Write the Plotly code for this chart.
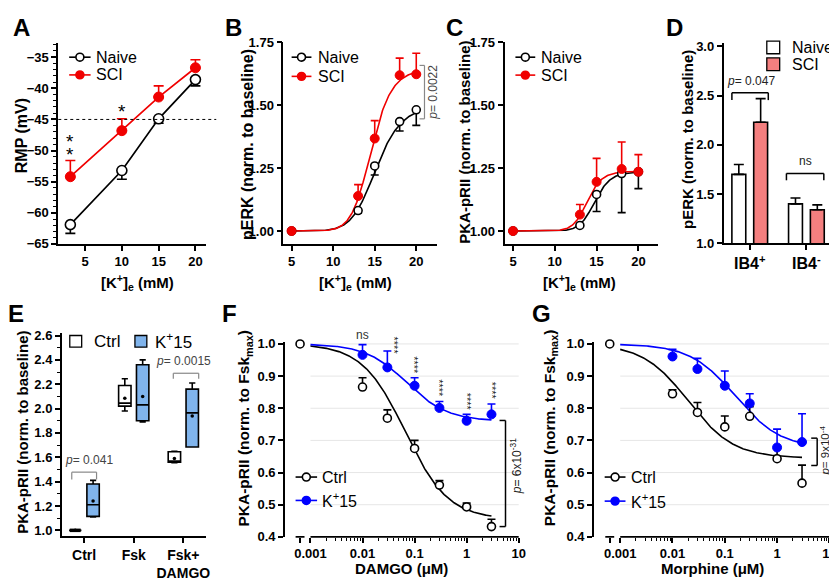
import numpy as np
import plotly.graph_objects as go

W, H = 837, 581
FONT = "Arial, Liberation Sans, sans-serif"
RED = "#f00000"
BLUE = "#0000ff"
SALMON = "#f47f7f"
LBLUE = "#80b4ec"

# ---------------- data ----------------
# Panel A: RMP vs [K+]e
K_A = [3, 10, 15, 20]
A_naive = [-61.9, -53.2, -44.9, -38.6]
A_naive_sem = [1.4, 1.4, 0.7, 1.0]
A_sci = [-54.2, -46.8, -41.4, -36.7]
A_sci_sem = [2.6, 1.9, 1.8, 1.3]
A_threshold = -45

# Panels B, C: [K+]e
K_BC = [5, 13, 15, 18, 20]
B_naive = [1.0, 1.081, 1.258, 1.434, 1.481]
B_naive_sem = [0.0, 0.01, 0.036, 0.037, 0.062]
B_sci = [1.0, 1.139, 1.367, 1.618, 1.622]
B_sci_sem = [0.0, 0.045, 0.071, 0.068, 0.083]
B_naive_fit = (1.0, 1.50, 15.2, 10)   # bottom, top, EC50, Hill
B_sci_fit = (1.0, 1.645, 14.6, 12)

C_naive = [1.0, 1.022, 1.145, 1.228, 1.235]
C_naive_sem = [0.0, 0.005, 0.068, 0.155, 0.067]
C_sci = [1.0, 1.065, 1.195, 1.246, 1.235]
C_sci_sem = [0.0, 0.04, 0.093, 0.107, 0.068]
C_naive_fit = (1.0, 1.235, 14.8, 16)
C_sci_fit = (1.0, 1.237, 13.9, 16)

# Panel D: bars
D_cats = ["IB4<sup>+</sup>", "IB4<sup>-</sup>"]
D_naive = [1.70, 1.40]
D_naive_sem = [0.10, 0.06]
D_sci = [2.23, 1.34]
D_sci_sem = [0.24, 0.05]

# Panel E: box plots
E_cats = ["Ctrl", "Fsk", "Fsk+<br>DAMGO"]
E_ctrl_lo = [1.0, 1.98, 1.555]
E_ctrl_q1 = [1.0, 2.02, 1.56]
E_ctrl_med = [1.0, 2.045, 1.565]
E_ctrl_q3 = [1.0, 2.19, 1.645]
E_ctrl_hi = [1.0, 2.245, 1.65]
E_ctrl_mean = [1.0, 2.085, 1.59]
E_k_lo = [1.11, 1.89, 1.685]
E_k_q1 = [1.115, 1.90, 1.685]
E_k_med = [1.21, 2.03, 1.965]
E_k_q3 = [1.38, 2.36, 2.16]
E_k_hi = [1.41, 2.40, 2.21]
E_k_mean = [1.24, 2.10, 1.94]

# Panels F, G: dose response
CONC = [0, 0.01, 0.03, 0.1, 0.3, 1, 3]
CONC_K = [0.01, 0.03, 0.1, 0.3, 1, 3]
F_ctrl = [1.0, 0.866, 0.769, 0.675, 0.561, 0.493, 0.432]
F_ctrl_sem = [0.0, 0.029, 0.026, 0.025, 0.014, 0.012, 0.023]
F_k = [0.966, 0.927, 0.870, 0.801, 0.761, 0.781]
F_k_sem = [0.032, 0.051, 0.025, 0.020, 0.020, 0.032]
F_ctrl_fit = (0.455, 1.0, 0.066, 1.05)  # bottom, top, IC50, Hill
F_k_fit = (0.76, 1.0, 0.07, 1.1)
F_stars = ["ns", "****", "****", "****", "****", "****"]

G_ctrl = [1.0, 0.845, 0.787, 0.742, 0.775, 0.643, 0.567]
G_ctrl_sem = [0.0, 0.012, 0.031, 0.034, 0.030, 0.035, 0.056]
G_k = [0.961, 0.922, 0.870, 0.815, 0.678, 0.695]
G_k_sem = [0.022, 0.033, 0.046, 0.030, 0.057, 0.088]
G_ctrl_fit = (0.645, 1.0, 0.02, 1.0)
G_k_fit = (0.675, 1.0, 0.16, 1.0)

ZERO_POS = 10 ** -3.2   # where the "0" dose is drawn on the broken log axis

# ---------------- geometry (pixels) ----------------
PANELS = {
    "A": dict(n=1, xd=(50.7, 200.0), yd=(28.3, 235.0), xr=(1.36, 21.48), yr=(-65, -32.65)),
    "B": dict(n=2, xd=(277.7, 433.0), yd=(27.7, 235.0), xr=(4.01, 22.54), yr=(0.9486, 1.75)),
    "C": dict(n=3, xd=(500.7, 655.0), yd=(27.7, 235.0), xr=(3.98, 22.29), yr=(0.9486, 1.75)),
    "D": dict(n=4, xd=(721.7, 836.0), yd=(28.3, 234.3), xr=(-0.46, 1.54), yr=(1.0, 3.04)),
    "E": dict(n=5, xd=(54.3, 199.3), yd=(326.5, 535.0), xr=(-0.45, 2.45), yr=(0.952, 2.62)),
    "F": dict(n=6, xd=(279.3, 515.0), yd=(336.0, 535.7), xr=(-3.49, 1.0), yr=(0.4, 1.005), log=True),
    "G": dict(n=7, xd=(591.0, 828.3), yd=(336.0, 535.7), xr=(-3.5, 1.0), yr=(0.4, 1.005), log=True),
}


def PX(x):
    return x / W


def PY(y):
    return 1 - y / H


def xpix(p, v):
    g = PANELS[p]
    r0, r1 = g["xr"]
    t = np.log10(v) if g.get("log") else v
    return g["xd"][0] + (t - r0) / (r1 - r0) * (g["xd"][1] - g["xd"][0])


def ypix(p, v):
    g = PANELS[p]
    r0, r1 = g["yr"]
    return g["yd"][1] - (v - r0) / (r1 - r0) * (g["yd"][1] - g["yd"][0])


def axn(p):
    n = PANELS[p]["n"]
    s = "" if n == 1 else str(n)
    return "x" + s, "y" + s


shapes = []
annotations = []


def seg(x0, y0, x1, y1, color="black", width=1.5, dash=None, layer="above"):
    shapes.append(dict(type="line", xref="paper", yref="paper",
                       x0=PX(x0), y0=PY(y0), x1=PX(x1), y1=PY(y1), layer=layer,
                       line=dict(color=color, width=width, dash=dash)))


def text(t, x, y, size=13, bold=False, angle=0, color="black", xa="center", ya="middle"):
    annotations.append(dict(text=t, x=PX(x), y=PY(y), xref="paper", yref="paper",
                            showarrow=False, xanchor=xa, yanchor=ya, textangle=angle,
                            font=dict(family=FONT, size=size, color=color,
                                      weight="bold" if bold else "normal")))


fig = go.Figure()


def err(up, down, color, w=4, th=1.5):
    return dict(type="data", symmetric=False, array=up, arrayminus=down,
                color=color, thickness=th, width=w)


def zeros(a):
    return [0] * len(a)


def open_marker(size):
    return dict(symbol="circle", size=size, color="white", line=dict(color="black", width=1.6))


def fill_marker(size, c):
    return dict(symbol="circle", size=size, color=c, line=dict(color=c, width=1))


# ---- A ----
xa, ya = axn("A")
fig.add_trace(go.Scatter(x=K_A, y=A_naive, mode="lines+markers", name="Naive",
                         line=dict(color="black", width=1.7), marker=open_marker(10),
                         error_y=err(zeros(A_naive), A_naive_sem, "black", 5, 1.6),
                         xaxis=xa, yaxis=ya, cliponaxis=False))
fig.add_trace(go.Scatter(x=K_A, y=A_sci, mode="lines+markers", name="SCI",
                         line=dict(color=RED, width=1.7), marker=fill_marker(10, RED),
                         error_y=err(A_sci_sem, zeros(A_sci), RED, 5, 1.6),
                         xaxis=xa, yaxis=ya, cliponaxis=False))


# ---- B, C ----
def hill_up(x, fit):
    b, t, ec, h = fit
    return b + (t - b) * x ** h / (x ** h + ec ** h)


xs_lin = np.linspace(5, 20, 200)
for p, nv, ns, sv, ss, nf, sf in [("B", B_naive, B_naive_sem, B_sci, B_sci_sem, B_naive_fit, B_sci_fit),
                                  ("C", C_naive, C_naive_sem, C_sci, C_sci_sem, C_naive_fit, C_sci_fit)]:
    xa, ya = axn(p)
    fig.add_trace(go.Scatter(x=xs_lin, y=hill_up(xs_lin, nf), mode="lines", line=dict(color="black", width=1.6),
                             xaxis=xa, yaxis=ya, showlegend=False, hoverinfo="skip"))
    fig.add_trace(go.Scatter(x=xs_lin, y=hill_up(xs_lin, sf), mode="lines", line=dict(color=RED, width=1.6),
                             xaxis=xa, yaxis=ya, showlegend=False, hoverinfo="skip"))
    fig.add_trace(go.Scatter(x=K_BC, y=nv, mode="markers", name="Naive", marker=open_marker(8),
                             error_y=err(zeros(nv), ns, "black", 4, 1.6), xaxis=xa, yaxis=ya, cliponaxis=False))
    fig.add_trace(go.Scatter(x=K_BC, y=sv, mode="markers", name="SCI", marker=fill_marker(9, RED),
                             error_y=err(ss, zeros(sv), RED, 4, 1.6), xaxis=xa, yaxis=ya, cliponaxis=False))

# ---- D ----
xa, ya = axn("D")
D_idx = list(range(len(D_cats)))
fig.add_trace(go.Bar(x=D_idx, y=D_naive, width=0.245, offset=-0.315, name="Naive",
                     marker=dict(color="white", line=dict(color="black", width=1.6)),
                     error_y=err(D_naive_sem, zeros(D_naive), "black", 5, 1.6), xaxis=xa, yaxis=ya))
fig.add_trace(go.Bar(x=D_idx, y=D_sci, width=0.245, offset=0.07, name="SCI",
                     marker=dict(color=SALMON, line=dict(color="black", width=1.6)),
                     error_y=err(D_sci_sem, zeros(D_sci), "black", 5, 1.6), xaxis=xa, yaxis=ya))

# ---- E ----
xa, ya = axn("E")
E_idx = np.arange(len(E_cats))
for off, lo, q1, med, q3, hi, mean, fc, nm in [
        (-0.18, E_ctrl_lo, E_ctrl_q1, E_ctrl_med, E_ctrl_q3, E_ctrl_hi, E_ctrl_mean, "white", "Ctrl"),
        (0.18, E_k_lo, E_k_q1, E_k_med, E_k_q3, E_k_hi, E_k_mean, LBLUE, "K+15")]:
    pos = list(E_idx + off)
    fig.add_trace(go.Box(x=pos, q1=q1, median=med, q3=q3, lowerfence=lo, upperfence=hi,
                         width=0.25, fillcolor=fc, line=dict(color="black", width=1.6),
                         whiskerwidth=0.5, boxpoints=False, name=nm, xaxis=xa, yaxis=ya))
    fig.add_trace(go.Scatter(x=pos, y=mean, mode="markers", marker=dict(size=3.5, color="black"),
                             xaxis=xa, yaxis=ya, showlegend=False, hoverinfo="skip"))
# the Ctrl/Ctrl group has zero spread: drawn as a heavy bar in the reference
seg(xpix("E", E_idx[0] - 0.18) - 5.5, ypix("E", E_ctrl_med[0]), xpix("E", E_idx[0] - 0.18) + 5.5,
    ypix("E", E_ctrl_med[0]), width=3.5)


# ---- F, G ----
def hill_down(x, fit):
    b, t, ic, h = fit
    return b + (t - b) / (1 + (x / ic) ** h)


xs_log = np.logspace(-3, np.log10(3), 250)
cx = [ZERO_POS if c == 0 else c for c in CONC]
for p, cv, cs, kv, ks, cf, kf in [("F", F_ctrl, F_ctrl_sem, F_k, F_k_sem, F_ctrl_fit, F_k_fit),
                                  ("G", G_ctrl, G_ctrl_sem, G_k, G_k_sem, G_ctrl_fit, G_k_fit)]:
    xa, ya = axn(p)
    fig.add_trace(go.Scatter(x=xs_log, y=hill_down(xs_log, cf), mode="lines", line=dict(color="black", width=1.6),
                             xaxis=xa, yaxis=ya, showlegend=False, hoverinfo="skip"))
    fig.add_trace(go.Scatter(x=xs_log, y=hill_down(xs_log, kf), mode="lines", line=dict(color=BLUE, width=1.6),
                             xaxis=xa, yaxis=ya, showlegend=False, hoverinfo="skip"))
    fig.add_trace(go.Scatter(x=cx, y=cv, mode="markers", name="Ctrl", marker=open_marker(8),
                             error_y=err(cs, zeros(cv), "black", 4, 1.6), xaxis=xa, yaxis=ya, cliponaxis=False))
    fig.add_trace(go.Scatter(x=CONC_K, y=kv, mode="markers", name="K+15", marker=fill_marker(9, BLUE),
                             error_y=err(ks, zeros(kv), BLUE, 4, 1.6), xaxis=xa, yaxis=ya, cliponaxis=False))

# ---------------- axes ----------------
TICKFONT = dict(family=FONT, size=13, color="black", weight="bold")
layout_axes = {}


def base_axis():
    return dict(showline=True, linecolor="black", linewidth=1.7, ticks="outside", ticklen=5,
                tickwidth=1.6, tickcolor="black", showgrid=False, zeroline=False,
                tickfont=TICKFONT, fixedrange=True)


for p, g in PANELS.items():
    n = g["n"]
    s = "" if n == 1 else str(n)
    xa_ = base_axis()
    xa_.update(domain=[PX(g["xd"][0]), PX(g["xd"][1])], range=list(g["xr"]), anchor="y" + s)
    ya_ = base_axis()
    ya_.update(domain=[PY(g["yd"][1]), PY(g["yd"][0])], range=list(g["yr"]), anchor="x" + s)
    layout_axes["xaxis" + s] = xa_
    layout_axes["yaxis" + s] = ya_

minor = dict(ticks="outside", ticklen=3, tickwidth=1.2, tickcolor="black")
layout_axes["xaxis"].update(tickvals=[5, 10, 15, 20])
layout_axes["yaxis"].update(tickvals=list(range(-65, -34, 5)), minor=dict(minor, dtick=1))
for s in ["2", "3"]:
    layout_axes["xaxis" + s].update(tickvals=[5, 10, 15, 20])
    layout_axes["yaxis" + s].update(tickvals=[1.0, 1.25, 1.5, 1.75], tickformat=".2f")
layout_axes["xaxis4"].update(tickvals=D_idx, ticktext=D_cats,
                             tickfont=dict(family=FONT, size=16, color="black", weight="bold"))
layout_axes["yaxis4"].update(tickvals=[1.0, 1.5, 2.0, 2.5, 3.0], tickformat=".1f")
layout_axes["xaxis5"].update(tickvals=list(E_idx), ticktext=E_cats,
                             tickfont=dict(family=FONT, size=14, color="black", weight="bold"))
layout_axes["yaxis5"].update(tickvals=[1.0, 1.2, 1.4, 1.6, 1.8, 2.0, 2.2, 2.4, 2.6], tickformat=".1f",
                             minor=dict(minor, dtick=0.1, tick0=1.0))
minor_log = [m * 10.0 ** e for e in range(-3, 1) for m in range(2, 10)]
for s in ["6", "7"]:
    layout_axes["xaxis" + s].update(type="log", showline=False,
                                    tickvals=[ZERO_POS, 0.001, 0.01, 0.1, 1, 10],
                                    ticktext=["", "0.001", "0.01", "0.1", "1", "10"],
                                    minor=dict(minor, tickmode="array", tickvals=minor_log))
    layout_axes["yaxis" + s].update(tickvals=[0.4, 0.5, 0.6, 0.7, 0.8, 0.9, 1.0], tickformat=".1f")

# ---------------- decorations ----------------
# broken log x axes + gridlines
for p in ["F", "G"]:
    g = PANELS[p]
    ybot = g["yd"][1]
    z = xpix(p, ZERO_POS)
    seg(z - 4.5, ybot, z + 4.5, ybot, width=1.7)
    seg(xpix(p, 0.001), ybot, g["xd"][1], ybot, width=1.7)
    for gv in [0.5, 0.6, 0.7, 0.8, 0.9, 1.0]:
        seg(xpix(p, 0.001), ypix(p, gv), g["xd"][1], ypix(p, gv), color="#e6e6e6", width=1, layer="below")

# A: threshold line and asterisks
seg(PANELS["A"]["xd"][0], ypix("A", A_threshold), 210, ypix("A", A_threshold), width=1, dash="dot")
text("*", xpix("A", 10), ypix("A", A_sci[1] + A_sci_sem[1]) - 8, size=19)
text("*", xpix("A", 3), ypix("A", A_sci[0] + A_sci_sem[0]) - 20, size=19)
text("*", xpix("A", 3), ypix("A", A_sci[0] + A_sci_sem[0]) - 6, size=19)

# B bracket
bx = 420
seg(bx, ypix("B", 1.657), bx, ypix("B", 1.445), color="#888888", width=1.2)
seg(bx - 5, ypix("B", 1.657), bx, ypix("B", 1.657), color="#888888", width=1.2)
seg(bx - 5, ypix("B", 1.445), bx, ypix("B", 1.445), color="#888888", width=1.2)
text("<i>p</i>= 0.0022", 429, ypix("B", 1.55), size=12, angle=-90, color="#444444")


# D brackets
def hbracket(p, x0, x1, yv, yleg, color, lw=1.5):
    seg(x0, ypix(p, yv), x1, ypix(p, yv), color=color, width=lw)
    seg(x0, ypix(p, yv), x0, ypix(p, yleg), color=color, width=lw)
    seg(x1, ypix(p, yv), x1, ypix(p, yleg), color=color, width=lw)


hbracket("D", 730, 766.7, 2.53, 2.455, "black")
text("<i>p</i>= 0.047", 749, ypix("D", 2.53) - 3, size=12, ya="bottom", color="#222222")
hbracket("D", 785, 822.7, 1.71, 1.64, "black")
text("ns", 804, ypix("D", 1.71) - 3, size=12, ya="bottom", color="#222222")

# E brackets
hbracket("E", 64.3, 89.3, 1.478, 1.418, "#888888", 1.2)
text("<i>p</i>= 0.041", 81.7, ypix("E", 1.478) - 3, size=12, ya="bottom", color="#444444")
hbracket("E", 166.7, 192.3, 2.29, 2.245, "#888888", 1.2)
text("<i>p</i>= 0.0015", 176.7, ypix("E", 2.29) - 3, size=12, ya="bottom", color="#444444")


# F/G vertical brackets
def vbracket(p, x, v0, v1, color="black", lw=1.5):
    seg(x, ypix(p, v0), x, ypix(p, v1), color=color, width=lw)
    seg(x - 6, ypix(p, v0), x, ypix(p, v0), color=color, width=lw)
    seg(x - 6, ypix(p, v1), x, ypix(p, v1), color=color, width=lw)


vbracket("F", 501.7, 0.762, 0.432)
text("<i>p</i>= 6x10<sup>-31</sup>", 512.5, 463, size=12, angle=-90, color="#222222")
vbracket("G", 816, 0.707, 0.622)
text("<i>p</i>= 9x10<sup>-4</sup>", 824, 447, size=11.5, angle=-90, color="#222222")

# F significance stars
STAR_DX = [0, 7, 0, 0, 0, 0]
STAR_DY = [0, 8, 0, 0, 0, 0]
for i, (c, v, s, lab) in enumerate(zip(CONC_K, F_k, F_k_sem, F_stars)):
    if lab == "ns":
        text(lab, xpix("F", c), ypix("F", v + s) - 1, size=12, ya="bottom", color="#333333")
    else:
        text(lab, xpix("F", c) + STAR_DX[i], ypix("F", v + s) - 2 + STAR_DY[i], size=11,
             angle=90, ya="bottom", color="#222222")


# ---------------- manual legends ----------------
def leg_line(x0, x1, y, color, filled, tx, label, size=16):
    seg(x0, y, x1, y, color=color, width=1.6)
    xm = (x0 + x1) / 2
    r = 4
    shapes.append(dict(type="circle", xref="paper", yref="paper",
                       x0=PX(xm - r), x1=PX(xm + r), y0=PY(y + r), y1=PY(y - r),
                       fillcolor=color if filled else "white", line=dict(color=color, width=1.6)))
    text(label, tx, y, size=size, xa="left")


def leg_box(xc, y, s, fill, tx, label, size=16):
    shapes.append(dict(type="rect", xref="paper", yref="paper",
                       x0=PX(xc - s / 2), x1=PX(xc + s / 2), y0=PY(y + s / 2), y1=PY(y - s / 2),
                       fillcolor=fill, line=dict(color="black", width=1.3)))
    text(label, tx, y, size=size, xa="left")


leg_line(61.7, 83.3, 43.3, "black", False, 87, "Naive")
leg_line(61.7, 83.3, 61.5, RED, True, 87, "SCI")
leg_line(286, 306, 43.3, "black", False, 311, "Naive")
leg_line(286, 306, 63.0, RED, True, 311, "SCI")
leg_line(511.7, 531.7, 43.3, "black", False, 535, "Naive")
leg_line(511.7, 531.7, 61.7, RED, True, 535, "SCI")
leg_box(771.7, 33.3, 13, "white", 788.5, "Naive")
leg_box(771.7, 50.5, 13, SALMON, 788.5, "SCI")
leg_box(68.3, 335, 12, "white", 85, "Ctrl", 17)
leg_box(134, 335, 12, LBLUE, 146, "K<sup>+</sup>15", 17)
leg_line(290, 311.7, 474.3, "black", False, 315, "Ctrl")
leg_line(290, 311.7, 498.3, BLUE, True, 315, "K<sup>+</sup>15")
leg_line(601.7, 622.7, 474.3, "black", False, 626, "Ctrl")
leg_line(601.7, 622.7, 499, BLUE, True, 626, "K<sup>+</sup>15")

# ---------------- axis titles & panel letters ----------------
KE = "[K<sup>+</sup>]<sub>e</sub> (mM)"
text("RMP (mV)", 13.5, 124, size=16, bold=True, angle=-90)
text(KE, 131, 275, size=15, bold=True)
text("pERK (norm. to baseline)", 241.5, 133, size=16, bold=True, angle=-90)
text(KE, 350, 275, size=15, bold=True)
text("PKA-pRII (norm. to baseline)", 460, 131, size=15, bold=True, angle=-90)
text(KE, 576, 275, size=15, bold=True)
text("pERK (norm. to baseline)", 685, 128, size=15, bold=True, angle=-90)
text("PKA-pRII (norm. to baseline)", 15, 428, size=15, bold=True, angle=-90)
text("PKA-pRII (norm. to Fsk<sub>max</sub>)", 238.5, 424, size=15.5, bold=True, angle=-90)
text("DAMGO (μM)", 396.7, 568, size=15, bold=True)
text("PKA-pRII (norm. to Fsk<sub>max</sub>)", 546.7, 424, size=15.5, bold=True, angle=-90)
text("Morphine (μM)", 710, 568, size=15, bold=True)

for lab, x, y in [("A", 14, 12.5), ("B", 227, 12.5), ("C", 450, 12.5), ("D", 672.5, 12.5),
                  ("E", 8, 306), ("F", 223, 306), ("G", 538, 306)]:
    text(lab, x, y, size=24, bold=True)

fig.update_layout(width=W, height=H, autosize=False, margin=dict(l=0, r=0, t=0, b=0),
                  paper_bgcolor="white", plot_bgcolor="rgba(0,0,0,0)", showlegend=False,
                  barmode="overlay", font=dict(family=FONT, color="black"),
                  shapes=shapes, annotations=annotations, **layout_axes)

fig.write_html("out.html")
